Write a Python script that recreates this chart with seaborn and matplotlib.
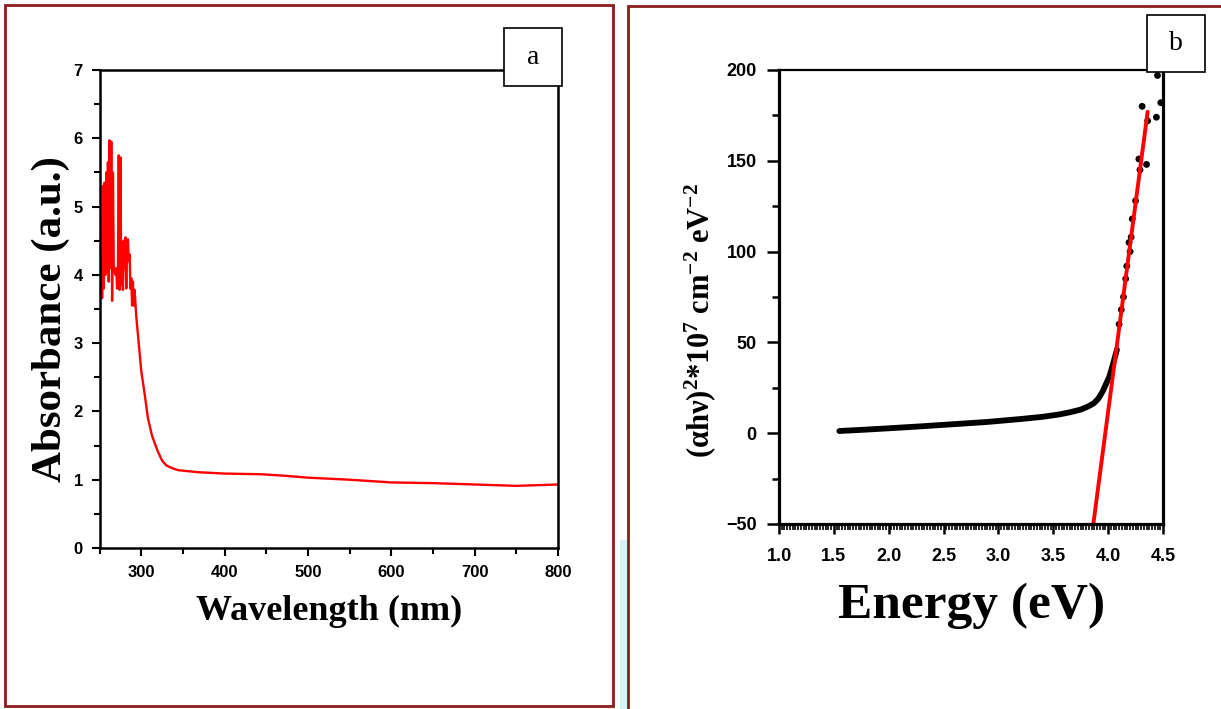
import matplotlib
matplotlib.use('Agg')
import matplotlib.pyplot as plt
from matplotlib.patches import Rectangle
from matplotlib.ticker import MultipleLocator, FormatStrFormatter
import seaborn as sns

# (a) UV-vis absorbance
wavelength = [250, 251, 252, 253, 254, 255, 256, 257, 258, 259, 260, 261, 262, 263,
              264, 265, 266, 267, 268, 269, 270, 271, 272, 273, 274, 275, 276, 277,
              278, 279, 280, 281, 282, 283, 284, 285, 286, 287, 288, 289, 290, 291,
              292, 294, 297, 300, 304, 308, 313, 320, 325, 330, 337, 344, 368, 400,
              444, 470, 500, 550, 600, 650, 700, 750, 800]
absorbance = [4.3, 4.1, 4.25, 3.66, 5.3, 3.8, 5.35, 4.0, 5.5, 4.05, 5.65, 3.9, 5.97, 4.1,
              5.95, 3.62, 5.5, 4.1, 4.05, 4.0, 4.1, 3.8, 4.05, 5.75, 3.78, 5.72, 3.85, 4.45,
              3.78, 4.5, 4.1, 4.55, 3.8, 4.5, 4.52, 4.2, 4.3, 3.8, 3.95, 3.55, 3.9, 3.55,
              3.78, 3.39, 2.99, 2.59, 2.26, 1.9, 1.64, 1.41, 1.28, 1.21, 1.17, 1.14, 1.11, 1.09,
              1.08, 1.06, 1.03, 1.0, 0.96, 0.95, 0.93, 0.91, 0.93]

# (b) Tauc plot: dense part of the curve, sparse points, linear fit
energy_curve = [1.55, 1.8, 2.0, 2.3, 2.6, 2.9, 3.2, 3.4, 3.55, 3.65, 3.75, 3.82, 3.87,
                3.91, 3.95, 3.98, 4.01, 4.04, 4.08]
tauc_curve = [1.2, 2.0, 2.7, 3.8, 5.0, 6.2, 7.8, 9.0, 10.3, 11.5, 13.0, 14.8, 16.5,
              19.0, 23.0, 27.0, 31.0, 37.0, 46.0]
energy_dots = [4.1, 4.12, 4.14, 4.16, 4.17, 4.19, 4.2, 4.21, 4.22, 4.25, 4.28, 4.29,
               4.35, 4.36, 4.31, 4.44, 4.48, 4.45]
tauc_dots = [60, 68, 75, 85, 92, 105, 100, 108, 118, 128, 151, 145, 148, 172, 180,
             174, 182, 197]
fit_energy = [3.865, 4.36]
fit_tauc = [-50, 177]

sns.set_style('ticks')
plt.rcParams['font.family'] = ['Liberation Sans', 'DejaVu Sans']
plt.rcParams['font.weight'] = 'bold'
for key in ['text.color', 'axes.labelcolor', 'xtick.color', 'ytick.color']:
    plt.rcParams[key] = 'black'
plt.rcParams['mathtext.fontset'] = 'custom'
plt.rcParams['mathtext.rm'] = 'Liberation Serif:bold'
plt.rcParams['mathtext.it'] = 'Liberation Serif:bold'
plt.rcParams['mathtext.bf'] = 'Liberation Serif:bold'

W, H = 1221, 709
fig = plt.figure(figsize=(W / 100, H / 100), dpi=100)


def box(x0, y0, x1, y1):
    # pixel box (top-left origin) -> figure fractions
    return [x0 / W, 1 - y1 / H, (x1 - x0) / W, (y1 - y0) / H]


serif = ['Liberation Serif', 'DejaVu Serif']

# ---------- panel a ----------
ax1 = fig.add_axes(box(99.6, 70, 558, 548))
sns.lineplot(x=wavelength, y=absorbance, ax=ax1, color='#ff0000', linewidth=1.7)
ax1.set_xlim(250, 800)
ax1.set_ylim(0, 7)
ax1.set_xticks([300, 400, 500, 600, 700, 800])
ax1.xaxis.set_minor_locator(MultipleLocator(50))
ax1.yaxis.set_major_locator(MultipleLocator(1))
ax1.yaxis.set_minor_locator(MultipleLocator(0.5))
ax1.tick_params(which='major', length=6, width=1.5, labelsize=12, pad=6)
ax1.tick_params(which='minor', length=4, width=1.5)
for s in ax1.spines.values():
    s.set_linewidth(1.8)
    s.set_color('black')
ax1.set_xlabel('Wavelength (nm)', family=serif, fontsize=26, fontweight='bold', va='center')
ax1.xaxis.set_label_coords(0.5, -0.132)
ax1.set_ylabel('Absorbance (a.u.)', family=serif, fontsize=31, fontweight='bold', va='center')
ax1.yaxis.set_label_coords(-0.106, 0.479)

# ---------- panel b ----------
ax2 = fig.add_axes(box(779, 70, 1163, 524))
sns.lineplot(x=energy_curve, y=tauc_curve, ax=ax2, color='black', linewidth=4.2,
             solid_capstyle='round')
sns.scatterplot(x=energy_dots, y=tauc_dots, ax=ax2, color='black', s=24,
                edgecolor='none', marker='o', clip_on=False)
sns.lineplot(x=fit_energy, y=fit_tauc, ax=ax2, color='#ff0000', linewidth=2.8)
ax2.set_xlim(1.0, 4.5)
ax2.set_ylim(-50, 200)
ax2.xaxis.set_major_locator(MultipleLocator(0.5))
ax2.xaxis.set_minor_locator(MultipleLocator(0.025))
ax2.yaxis.set_major_locator(MultipleLocator(50))
ax2.yaxis.set_minor_locator(MultipleLocator(25))
ax2.xaxis.set_major_formatter(FormatStrFormatter('%.1f'))
ax2.tick_params(axis='x', which='major', length=7, width=1.8, labelsize=13, pad=10)
ax2.tick_params(axis='x', which='minor', length=4, width=1.2)
ax2.tick_params(axis='y', which='major', length=9, width=1.8, labelsize=13, pad=7)
ax2.tick_params(axis='y', which='minor', length=5, width=1.8)
for s in ax2.spines.values():
    s.set_linewidth(2.3)
    s.set_color('black')
ax2.spines['top'].set_linewidth(1.6)
ax2.set_xlabel('Energy (eV)', family=serif, fontsize=37, fontweight='bold', va='center')
ax2.xaxis.set_label_coords(0.501, -0.18)
ax2.set_ylabel(r'(${\alpha}h{\nu}$)$^{2}$*10$^{7}$ cm$^{-2}$ eV$^{-2}$', family=serif,
               fontsize=22, fontweight='bold', va='center')
ax2.yaxis.set_label_coords(-0.206, 0.449)

# ---------- frames and panel tags ----------
fig.add_artist(Rectangle(box(620, 540, 628, 709)[:2], 8 / W, 169 / H,
                         transform=fig.transFigure, facecolor='#d2f4f8',
                         edgecolor='none', zorder=1))
fig.add_artist(Rectangle(box(5, 5, 613, 706)[:2], 608 / W, 701 / H,
                         transform=fig.transFigure, facecolor='none',
                         edgecolor='#8b1c1c', linewidth=2.0, zorder=5))
fig.add_artist(Rectangle(box(628, 6, 1240, 720)[:2], 612 / W, 714 / H,
                         transform=fig.transFigure, facecolor='none',
                         edgecolor='#8b1c1c', linewidth=2.0, zorder=5))

for (x0, y0, x1, y1), tag in [((504, 28, 562, 86), 'a'), ((1147, 15, 1205, 72), 'b')]:
    b = box(x0, y0, x1, y1)
    fig.add_artist(Rectangle(b[:2], b[2], b[3], transform=fig.transFigure,
                             facecolor='white', edgecolor='black', linewidth=1.2,
                             zorder=6))
    fig.text(b[0] + b[2] / 2, b[1] + b[3] / 2, tag, family=serif, fontsize=20,
             fontweight='normal', ha='center', va='center', zorder=7)

fig.savefig('out.png', dpi=100, facecolor='white')
